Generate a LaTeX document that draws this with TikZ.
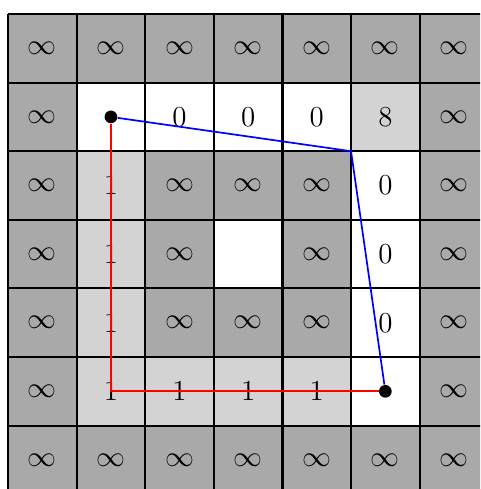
\documentclass[tikz,border=0pt]{standalone}
\begin{document}
\begin{tikzpicture}[
  cell/.style={draw=none, minimum size=1cm, inner sep=0pt, outer sep=0pt, font=\large},
  cellD/.style={cell, fill=darkc},
  cellL/.style={cell, fill=lightc},
  cellW/.style={cell, fill=white},
  gridline/.style={line width=0.9pt, black},
  dot/.style={circle, fill=black, inner sep=0pt, minimum size=0.185cm},
  route/.style={line width=0.7pt, line join=round}
]
\definecolor{darkc}{HTML}{A9A9A9}
\definecolor{lightc}{HTML}{D3D3D3}
\clip (-0.117,0.076) rectangle (6.880,7.204);
\useasboundingbox (-0.117,0.076) rectangle (6.880,7.204);
\foreach \row [count=\r from 0] in {
  {D/\infty,D/\infty,D/\infty,D/\infty,D/\infty,D/\infty,D/\infty},
  {D/\infty,W/{},W/0,W/0,W/0,L/8,D/\infty},
  {D/\infty,L/1,D/\infty,D/\infty,D/\infty,W/0,D/\infty},
  {D/\infty,L/1,D/\infty,W/{},D/\infty,W/0,D/\infty},
  {D/\infty,L/1,D/\infty,D/\infty,D/\infty,W/0,D/\infty},
  {D/\infty,L/1,L/1,L/1,L/1,W/{},D/\infty},
  {D/\infty,D/\infty,D/\infty,D/\infty,D/\infty,D/\infty,D/\infty}}
{
  \foreach \t/\txt [count=\c from 0] in \row {
    \node[cell\t] (n\r-\c) at (\c+0.5, 6.5-\r) {$\txt$};
  }
}
\draw[gridline] (n6-0.south west) grid (n0-6.north east);
\node[dot] (s) at (n1-1.center) {};
\node[dot] (t) at (n5-5.center) {};
\coordinate (c) at (n2-5.north west);
\draw[route, red] (s) |- (t);
\draw[route, blue] (s) -- (c) -- (t);
\end{tikzpicture}
\end{document}
